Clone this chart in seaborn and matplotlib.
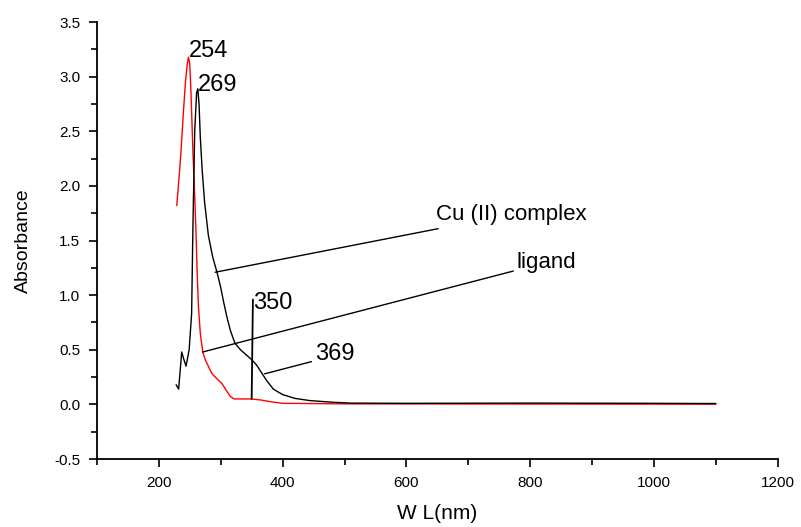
import matplotlib
matplotlib.use("Agg")
import matplotlib.pyplot as plt
import seaborn as sns
import pandas as pd
from matplotlib.ticker import MultipleLocator, FormatStrFormatter

# Ligand (red)
lig_wl = [229, 233, 236, 240, 243, 246, 248, 250, 252, 255, 258, 260, 262, 264, 267, 271, 275, 280, 286, 293, 302, 310, 316, 322, 335, 350, 365, 380, 400, 500, 700, 900, 1100]
lig_abs = [1.82, 2.10, 2.33, 2.70, 2.95, 3.12, 3.18, 3.12, 2.85, 2.33, 1.90, 1.59, 1.20, 0.90, 0.65, 0.48, 0.41, 0.35, 0.28, 0.24, 0.19, 0.12, 0.07, 0.05, 0.05, 0.05, 0.04, 0.025, 0.01, 0.005, 0.004, 0.003, 0.002]

# Cu(II) complex (black)
cu_wl = [228, 232, 237, 240, 244, 249, 253, 255, 258, 261, 263, 265, 267, 270, 274, 280, 287, 294, 300, 305, 310, 316, 323, 332, 342, 350, 358, 366, 374, 385, 400, 420, 444, 480, 509, 600, 800, 1000, 1100]
cu_abs = [0.18, 0.14, 0.48, 0.42, 0.35, 0.50, 0.83, 1.59, 2.50, 2.85, 2.89, 2.75, 2.45, 2.15, 1.85, 1.55, 1.35, 1.21, 1.07, 0.93, 0.80, 0.67, 0.56, 0.50, 0.45, 0.41, 0.36, 0.29, 0.22, 0.14, 0.09, 0.055, 0.035, 0.02, 0.012, 0.01, 0.012, 0.01, 0.008]

sns.set_style("ticks")
plt.rcParams['font.family'] = ['Liberation Sans', 'DejaVu Sans']
plt.rcParams['text.color'] = 'black'
plt.rcParams['axes.labelcolor'] = 'black'
plt.rcParams['xtick.color'] = 'black'
plt.rcParams['ytick.color'] = 'black'

fig = plt.figure(figsize=(8.01, 5.27), dpi=100)
ax = fig.add_axes([0.121, 0.129, 0.850, 0.829])

df_l = pd.DataFrame({"wl": lig_wl, "a": lig_abs})
df_c = pd.DataFrame({"wl": cu_wl, "a": cu_abs})
sns.lineplot(data=df_l, x="wl", y="a", color="red", lw=1.0, ax=ax, sort=False)
sns.lineplot(data=df_c, x="wl", y="a", color="black", lw=1.0, ax=ax, sort=False)

ax.set_xlim(100, 1200)
ax.set_ylim(-0.5, 3.5)
ax.xaxis.set_major_locator(MultipleLocator(200))
ax.xaxis.set_minor_locator(MultipleLocator(100))
ax.yaxis.set_major_locator(MultipleLocator(0.5))
ax.yaxis.set_minor_locator(MultipleLocator(0.25))
ax.yaxis.set_major_formatter(FormatStrFormatter('%.1f'))
ax.tick_params(which='major', direction='out', length=6, width=1.2, labelsize=11, colors='black', pad=6)
ax.tick_params(which='minor', direction='out', length=4, width=1.2, colors='black')
for s in ['top', 'right']:
    ax.spines[s].set_visible(False)
for s in ['left', 'bottom']:
    ax.spines[s].set_linewidth(1.3)
    ax.spines[s].set_color('black')
xt = list(range(200, 1201, 200))
ax.set_xticks(xt)
ax.set_xticklabels([str(t) for t in xt])

ax.set_xlabel("W L(nm)", fontsize=15, labelpad=10)
ax.set_ylabel("Absorbance", fontsize=14, labelpad=16)

# Annotations
ax.annotate("254", xy=(247, 3.18), xytext=(248, 3.24), fontsize=17, va='center', ha='left')
ax.annotate("269", xy=(262, 2.89), xytext=(263, 2.92), fontsize=17, va='center', ha='left')
ax.annotate("Cu (II) complex", xy=(291, 1.21), xytext=(648, 1.74), fontsize=16, va='center', ha='left',
            arrowprops=dict(arrowstyle='-', color='black', lw=1.0, shrinkA=2, shrinkB=0))
ax.annotate("ligand", xy=(271, 0.48), xytext=(778, 1.30), fontsize=16, va='center', ha='left',
            arrowprops=dict(arrowstyle='-', color='black', lw=1.0, shrinkA=0, shrinkB=0))
ax.plot([350, 352], [0.05, 0.96], color='black', lw=1.3)
ax.text(353, 0.93, "350", fontsize=17, va='center', ha='left')
ax.annotate("369", xy=(371, 0.28), xytext=(452, 0.46), fontsize=17, va='center', ha='left',
            arrowprops=dict(arrowstyle='-', color='black', lw=1.0, shrinkA=0, shrinkB=0,
                            relpos=(0, 0.2)))

fig.savefig("out.png", dpi=100)
